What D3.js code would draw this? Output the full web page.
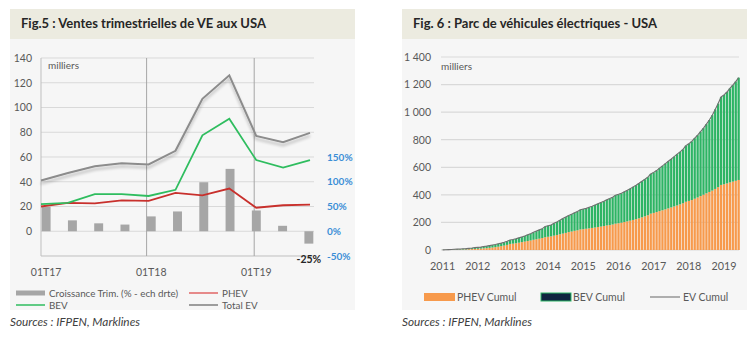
<!DOCTYPE html>
<html>
<head>
<meta charset="utf-8">
<script src="https://cdn.jsdelivr.net/npm/d3@7"></script>
<style>
  body { margin: 0; background: #fff; }
  svg { display: block; font-family: Lato, "Open Sans", sans-serif; }
</style>
</head>
<body>
<div class="container"></div>
<script>
// Fig.5 - quarterly sales (thousands) and growth (%)
const quarters = ["01T17", "02T17", "03T17", "04T17", "01T18", "02T18", "03T18", "04T18", "01T19", "02T19", "03T19"];
const totalEV = [41, 47, 52.5, 55, 54, 65, 107, 126, 77, 72, 79.5];
const bev = [22, 23, 30, 30, 28.5, 33.5, 77.5, 91, 57.5, 51.5, 57.5];
const phev = [20, 23, 22.5, 25, 24.5, 31, 29, 34.5, 19, 21, 21.5];
const growth = [49, 22, 16, 13.5, 30, 40, 99, 126, 42, 11, -25];
const quarterLabels = ["01T17", "01T18", "01T19"];
const leftTicks = [0, 20, 40, 60, 80, 100, 120, 140];
const rightTicks = [-50, 0, 50, 100, 150];

// Fig.6 - cumulative fleet (thousands), monthly Jan 2011 - Jun 2019
const years = [2011, 2012, 2013, 2014, 2015, 2016, 2017, 2018, 2019];
const phevCumul = [
  0.3, 0.6, 1.2, 1.7, 2.2, 2.8, 3.3, 3.8, 4.6, 5.6, 6.7, 8.0,
  8.6, 10, 12, 13.5, 15.5, 18, 21, 24, 28, 32, 37, 44,
  46, 49, 53, 57, 61, 65, 69, 74, 78, 82, 87, 93,
  96, 99, 104, 109, 114, 119, 124, 130, 134, 139, 143, 149,
  151, 154, 157, 160, 163, 167, 170, 174, 178, 181, 185, 191,
  194, 198, 203, 208, 213, 218, 224, 230, 237, 244, 252, 264,
  269, 275, 282, 288, 295, 302, 309, 316, 323, 331, 339, 350,
  356, 362, 372, 381, 391, 401, 411, 421, 431, 443, 456, 472,
  477, 483, 490, 496, 502, 508
];
const bevCumul = [
  0.7, 1.4, 1.8, 2.3, 2.8, 3.2, 3.7, 5.2, 5.4, 6.4, 7.3, 9.0,
  10.4, 11, 13, 14.5, 16.5, 18, 19, 21, 22, 24, 26, 28,
  30, 32, 35, 38, 41, 45, 49, 54, 59, 64, 68, 77,
  80, 83, 90, 95, 102, 109, 115, 120, 126, 131, 136, 143,
  146, 148, 153, 158, 164, 169, 175, 180, 186, 192, 198, 207,
  210, 213, 219, 225, 232, 240, 246, 254, 262, 269, 276, 288,
  294, 301, 312, 322, 332, 342, 351, 361, 372, 381, 391, 407,
  415, 426, 439, 452, 467, 483, 502, 522, 547, 577, 606, 638,
  648, 663, 682, 700, 720, 742
];
const fleetTicks = [0, 200, 400, 600, 800, 1000, 1200, 1400];

const svg = d3.select(".container")
  .append("svg")
  .attr("width", 756)
  .attr("height", 339);

const defs = svg.append("defs");
const shadow = defs.append("filter").attr("id", "shadow")
  .attr("x", "-10%").attr("y", "-10%").attr("width", "120%").attr("height", "130%");
shadow.append("feGaussianBlur").attr("in", "SourceAlpha").attr("stdDeviation", 1.6);
shadow.append("feOffset").attr("dy", 2.5).attr("result", "b");
shadow.append("feComponentTransfer").append("feFuncA").attr("type", "linear").attr("slope", 0.25);
const merge = shadow.append("feMerge");
merge.append("feMergeNode");
merge.append("feMergeNode").attr("in", "SourceGraphic");

const textGray = "#595959";

// ---------- panel backgrounds ----------
function panel(x, title, titleX) {
  svg.append("rect").attr("x", x).attr("y", 38).attr("width", 345).attr("height", 272).attr("fill", "#f6f6f6");
  svg.append("rect").attr("x", x).attr("y", 9).attr("width", 345).attr("height", 30).attr("fill", "#ecebe0");
  svg.append("text").attr("x", titleX).attr("y", 28)
    .attr("font-size", 13).attr("font-weight", "bold").attr("fill", "#262626")
    .text(title);
  svg.append("text").attr("x", x).attr("y", 326)
    .attr("font-size", 11.8).attr("font-style", "italic").attr("fill", "#404040")
    .text("Sources : IFPEN, Marklines");
}
panel(10, "Fig.5 : Ventes trimestrielles de VE aux USA", 21);
panel(402, "Fig. 6 : Parc de véhicules électriques - USA", 413);

// ---------- Fig.5 ----------
const yL = d3.scaleLinear().domain([-20, 140]).range([256, 58]);
const yR = d3.scaleLinear().domain([-50, 350]).range([256, 58]);
const xP = d3.scalePoint().domain(quarters).range([41, 310]);
const xB = d3.scaleBand().domain(quarters).range([33, 322]).paddingInner(0.66).paddingOuter(0.33);
const bandMid = q => xB(q) + xB.bandwidth() / 2;

const g1 = svg.append("g");
g1.selectAll(".hgrid").data(leftTicks).enter().append("line")
  .attr("x1", 41).attr("x2", 314)
  .attr("y1", d => yL(d)).attr("y2", d => yL(d))
  .attr("stroke", "#d9d9d9").attr("stroke-width", 1);
g1.append("line").attr("x1", 41).attr("x2", 314).attr("y1", yL(-20)).attr("y2", yL(-20))
  .attr("stroke", "#bfbfbf");
g1.append("line").attr("x1", 41).attr("x2", 41).attr("y1", yL(140)).attr("y2", yL(-20))
  .attr("stroke", "#bfbfbf");
g1.selectAll(".vline").data(["01T18", "01T19"]).enter().append("line")
  .attr("x1", d => xP(d) - 2).attr("x2", d => xP(d) - 2)
  .attr("y1", yL(140)).attr("y2", yL(-20))
  .attr("stroke", "#a6a6a6");

const yAxisL = d3.axisLeft(yL).tickValues(leftTicks).tickSize(0).tickPadding(9);
g1.append("g").attr("transform", "translate(41,0)").call(yAxisL)
  .call(s => s.select(".domain").remove())
  .call(s => s.selectAll("text").attr("font-size", 10.5).attr("fill", textGray).attr("font-family", "Lato"));

const yAxisR = d3.axisRight(yR).tickValues(rightTicks).tickSize(0).tickPadding(13)
  .tickFormat(d => d + "%");
g1.append("g").attr("transform", "translate(314,0)").call(yAxisR)
  .call(s => s.select(".domain").remove())
  .call(s => s.selectAll("text").attr("font-size", 10).attr("font-weight", "bold")
    .attr("fill", "#3b8ed6").attr("font-family", "Lato"));

g1.selectAll(".xlab").data(quarterLabels).enter().append("text")
  .attr("x", d => bandMid(d)).attr("y", 276)
  .attr("text-anchor", "middle").attr("font-size", 10.5).attr("fill", textGray)
  .text(d => d);

g1.append("text").attr("x", 48).attr("y", 69).attr("font-size", 10).attr("fill", textGray).text("milliers");

g1.selectAll(".bar").data(quarters).enter().append("rect")
  .attr("x", d => xB(d))
  .attr("width", xB.bandwidth())
  .attr("y", (d, i) => yR(Math.max(0, growth[i])))
  .attr("height", (d, i) => Math.abs(yR(growth[i]) - yR(0)))
  .attr("fill", "#a6a6a6");

const line = vals => d3.line().x((d, i) => xP(quarters[i])).y(d => yL(d))(vals);
g1.append("path").attr("d", line(totalEV)).attr("fill", "none")
  .attr("stroke", "#8c8c8c").attr("stroke-width", 2).attr("filter", "url(#shadow)");
g1.append("path").attr("d", line(phev)).attr("fill", "none")
  .attr("stroke", "#c8302c").attr("stroke-width", 1.8);
g1.append("path").attr("d", line(bev)).attr("fill", "none")
  .attr("stroke", "#2fbd5f").attr("stroke-width", 1.8);

const last = quarters.length - 1;
g1.append("text").attr("x", bandMid(quarters[last])).attr("y", yR(growth[last]) + 19)
  .attr("text-anchor", "middle").attr("font-size", 10.5).attr("font-weight", "bold").attr("fill", "#262626")
  .text(growth[last] + "%");

// legend
const leg1 = [
  { label: "Croissance Trim. (% - ech drte)", x: 16, y: 293, color: "#a6a6a6", w: 5 },
  { label: "PHEV", x: 189, y: 293, color: "#e06666", w: 1.5 },
  { label: "BEV", x: 16, y: 305, color: "#2fbd5f", w: 1.5 },
  { label: "Total EV", x: 189, y: 305, color: "#7f7f7f", w: 1.5 }
];
leg1.forEach(d => {
  g1.append("line").attr("x1", d.x).attr("x2", d.x + 29).attr("y1", d.y).attr("y2", d.y)
    .attr("stroke", d.color).attr("stroke-width", d.w);
  g1.append("text").attr("x", d.x + 33).attr("y", d.y + 3.5).attr("font-size", 9.8).attr("fill", textGray).text(d.label);
});

// ---------- Fig.6 ----------
const months = phevCumul.map((d, i) => i);
const xM = d3.scaleBand().domain(months).range([441.5, 739.8]).paddingInner(0.22);
const yF = d3.scaleLinear().domain([0, 1400]).range([250, 57]);

const g2 = svg.append("g");
g2.selectAll(".hgrid").data(fleetTicks).enter().append("line")
  .attr("x1", 441).attr("x2", 739)
  .attr("y1", d => yF(d)).attr("y2", d => yF(d))
  .attr("stroke", "#d9d9d9").attr("stroke-width", 1.2);

const yAxisF = d3.axisLeft(yF).tickValues(fleetTicks).tickSize(0).tickPadding(10)
  .tickFormat(d => d3.format(",")(d).replace(",", " "));
g2.append("g").attr("transform", "translate(441,0)").call(yAxisF)
  .call(s => s.select(".domain").remove())
  .call(s => s.selectAll("text").attr("font-size", 10.5).attr("fill", textGray).attr("font-family", "Lato"));

g2.selectAll(".year").data(years).enter().append("text")
  .attr("x", (d, i) => xM(i * 12) + xM.bandwidth() / 2)
  .attr("y", 270).attr("text-anchor", "middle").attr("font-size", 10.8).attr("fill", textGray)
  .text(d => d);

g2.append("text").attr("x", 441).attr("y", 70).attr("font-size", 10).attr("fill", textGray).text("milliers");

g2.selectAll(".phev").data(phevCumul).enter().append("rect")
  .attr("x", (d, i) => xM(i)).attr("width", xM.bandwidth())
  .attr("y", d => yF(d)).attr("height", d => yF(0) - yF(d))
  .attr("fill", "#f79a4c");
g2.selectAll(".bev").data(bevCumul).enter().append("rect")
  .attr("x", (d, i) => xM(i)).attr("width", xM.bandwidth())
  .attr("y", (d, i) => yF(d + phevCumul[i])).attr("height", d => yF(0) - yF(d))
  .attr("fill", "#2db464");

const evCumul = phevCumul.map((d, i) => d + bevCumul[i]);
g2.append("path")
  .attr("d", d3.line().x((d, i) => xM(i) + xM.bandwidth() / 2).y(d => yF(d))(evCumul))
  .attr("fill", "none").attr("stroke", "#6f6f6f").attr("stroke-width", 1.1);

// legend
g2.append("rect").attr("x", 424).attr("y", 293).attr("width", 31).attr("height", 8).attr("fill", "#f79a4c");
g2.append("text").attr("x", 457).attr("y", 300.5).attr("font-size", 10.5).attr("fill", textGray).text("PHEV Cumul");
g2.append("rect").attr("x", 541).attr("y", 293).attr("width", 30).attr("height", 8)
  .attr("fill", "#0f2540").attr("stroke", "#2db464").attr("stroke-width", 1);
g2.append("text").attr("x", 573).attr("y", 300.5).attr("font-size", 10.5).attr("fill", textGray).text("BEV Cumul");
g2.append("line").attr("x1", 650).attr("x2", 680).attr("y1", 297).attr("y2", 297).attr("stroke", "#7f7f7f").attr("stroke-width", 1.2);
g2.append("text").attr("x", 683).attr("y", 300.5).attr("font-size", 10.5).attr("fill", textGray).text("EV Cumul");
</script>
</body>
</html>
